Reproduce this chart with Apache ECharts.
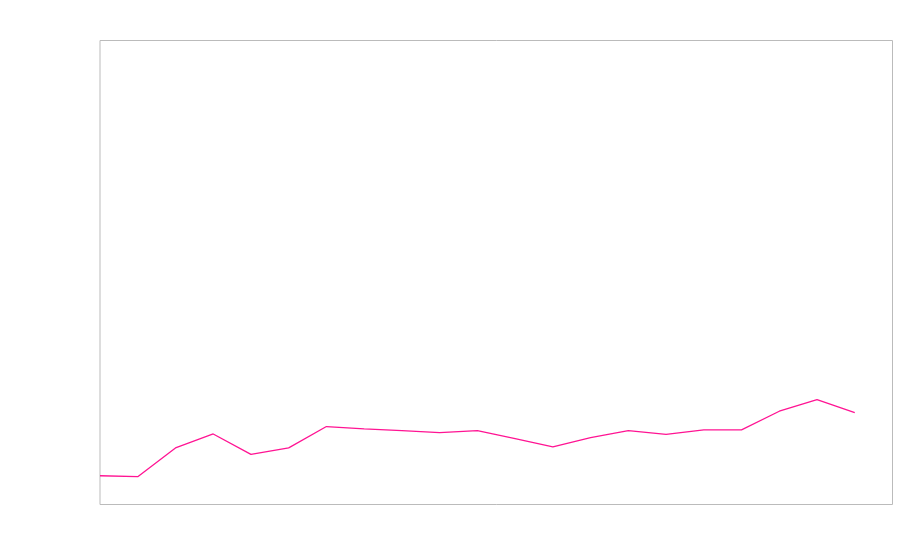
<!DOCTYPE html>
<html>
<head>
<meta charset="utf-8">
<script src="https://cdn.jsdelivr.net/npm/echarts@6/dist/echarts.min.js"></script>
<style>html,body{margin:0;padding:0;background:#fff}#c{width:900px;height:560px}</style>
</head>
<body>
<div id="c"></div>
<script>
const categories = ['1','2','3','4','5','6','7','8','9','10','11','12','13','14','15','16','17','18','19','20','21','22'];
const values = [6.2, 6.0, 12.2, 15.2, 10.8, 12.2, 16.8, 16.3, 15.9, 15.5, 15.9, 14.2, 12.4, 14.4, 15.9, 15.1, 16.1, 16.1, 20.1, 22.6, 19.8, null];

const chart = echarts.init(document.getElementById('c'), null, {renderer: 'canvas'});
chart.setOption({
  animation: false,
  backgroundColor: '#fff',
  grid: {left: 100, right: 7.5, top: 40.5, bottom: 55.5, show: true, borderColor: '#bbb', borderWidth: 1, backgroundColor: 'transparent'},
  xAxis: {type: 'category', data: categories, boundaryGap: false, show: false},
  yAxis: {type: 'value', min: 0, max: 100, show: false},
  series: [{
    type: 'line',
    data: values,
    showSymbol: false,
    lineStyle: {color: '#ff1493', width: 1.3},
    itemStyle: {color: '#ff1493'}
  }]
});
</script>
</body>
</html>
